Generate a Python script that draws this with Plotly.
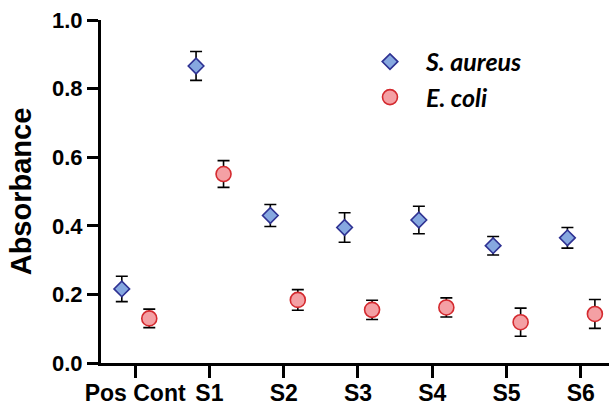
import numpy as np
import plotly.graph_objects as go

categories = ["Pos Cont", "S1", "S2", "S3", "S4", "S5", "S6"]
s_aureus = [0.216, 0.866, 0.430, 0.395, 0.417, 0.342, 0.365]
s_aureus_err = [0.037, 0.042, 0.032, 0.043, 0.040, 0.027, 0.030]
e_coli = [0.130, 0.551, 0.184, 0.155, 0.162, 0.119, 0.143]
e_coli_err = [0.027, 0.039, 0.030, 0.028, 0.028, 0.041, 0.042]
y_ticks = [0.0, 0.2, 0.4, 0.6, 0.8, 1.0]

idx = np.arange(len(categories))

fig = go.Figure()
fig.add_trace(go.Scatter(
    x=idx - 0.18, y=s_aureus, mode="markers",
    name="<b><i>S. aureus</i></b>",
    marker=dict(symbol="diamond", size=12, color="#86a8e0",
                line=dict(color="#2e3192", width=1.6)),
    error_y=dict(type="data", array=s_aureus_err, color="black",
                 thickness=1.6, width=6),
    cliponaxis=False,
))
fig.add_trace(go.Scatter(
    x=idx + 0.19, y=e_coli, mode="markers",
    name="<b><i>E. coli</i></b>",
    marker=dict(symbol="circle", size=15, color="#f4a0a4",
                line=dict(color="#d42a2f", width=1.6)),
    error_y=dict(type="data", array=e_coli_err, color="black",
                 thickness=1.6, width=6),
    cliponaxis=False,
))

fig.update_layout(
    template="none",
    width=609, height=406,
    margin=dict(l=101, r=0, t=20, b=43, autoexpand=False),
    paper_bgcolor="white", plot_bgcolor="white",
    font=dict(family="Liberation Sans, Arial, sans-serif", color="black"),
    showlegend=True,
    legend=dict(x=0.498, y=0.945, xanchor="left", yanchor="top",
                font=dict(family="Lato, Liberation Sans", size=25, color="black"),
                bgcolor="rgba(0,0,0,0)", itemwidth=62, tracegroupgap=0),
    xaxis=dict(range=[-0.46, 6.38], tickvals=list(idx), ticktext=[f"<b>{c}</b>" for c in categories],
               showgrid=False, zeroline=False, showline=True, linecolor="black", linewidth=3,
               ticks="outside", ticklen=12, tickwidth=3, tickcolor="black", automargin=False,
               ticklabelstandoff=-5,
               tickfont=dict(size=23, family="Liberation Sans, Arial", color="black")),
    yaxis=dict(range=[0, 1.0], tickvals=y_ticks, ticktext=[f"<b>{v:.1f}</b>" for v in y_ticks],
               showgrid=False, zeroline=False, showline=True, linecolor="black", linewidth=3,
               ticks="outside", ticklen=11, tickwidth=3, tickcolor="black", automargin=False,
               tickfont=dict(size=22, family="Liberation Sans, Arial", color="black"),
               title=dict(text="<b>Absorbance</b>", standoff=12,
                          font=dict(size=29, family="Liberation Sans, Arial", color="black"))),
)

fig.write_html("out.html", config={"displayModeBar": False},
               post_script="document.body.style.margin='0px';document.body.style.overflow='hidden';")
